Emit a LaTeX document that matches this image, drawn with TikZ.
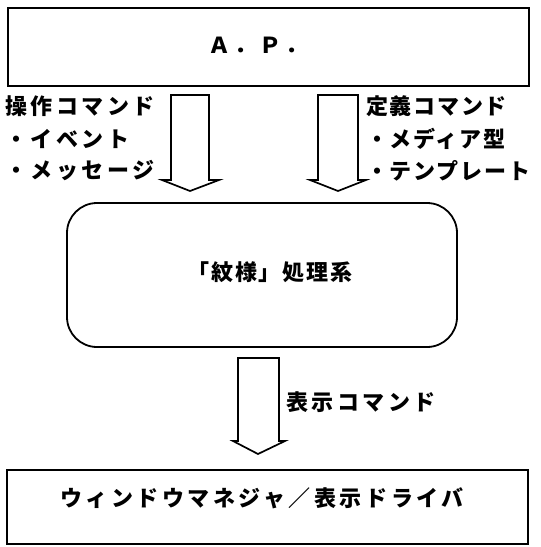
\documentclass[tikz,border=0pt]{standalone}
\usepackage{fontspec}
\newfontfamily\jpw{Noto Sans CJK JP}[LetterSpace=16]
\newfontfamily\jpn{Noto Sans CJK JP}[LetterSpace=8]
\begin{document}
\begin{tikzpicture}[x=1pt,y=-1pt,
  box/.style={draw, line width=1.8pt, inner sep=0pt},
  txt/.style={font=\jpw\bfseries\fontsize{22}{22}\selectfont, inner sep=0pt, align=left},
  txtn/.style={font=\jpn\bfseries\fontsize{22}{22}\selectfont, inner sep=0pt, align=left},
  barrow/.style={draw, line width=1.7pt, line join=miter}]
\useasboundingbox (0,0) rectangle (541,547);
% boxes
\node[box, minimum width=521pt, minimum height=78pt] (ap) at (268.5,47) {};
\node[txt] (aplbl) at (258,45) {Ａ．Ｐ．};
\node[box, rounded corners=30pt, minimum width=390pt, minimum height=144pt] (proc) at (262,275) {};
\node[txtn] (proclbl) at (270,272) {「紋様」処理系};
\node[box, minimum width=521pt, minimum height=74pt] (wm) at (267.5,507) {};
\node[txt] (wmlbl) at (262,498) {ウィンドウマネジャ／表示ドライバ};
% left block arrow
\coordinate (la1) at (171,95);
\coordinate (la2) at (209,95);
\draw[barrow] (la1) -- (171,180) -- (162,180) -- (190,191) -- (219,180) -- (209,180) -- (la2) -- cycle;
% right block arrow
\coordinate (ra1) at (318,95);
\coordinate (ra2) at (358,95);
\draw[barrow] (ra1) -- (318,180) -- (310,180) -- (338,191) -- (366,180) -- (358,180) -- (ra2) -- cycle;
% bottom block arrow
\coordinate (ba1) at (238,358);
\coordinate (ba2) at (279,358);
\draw[barrow] (ba1) -- (238,441) -- (233,441) -- (258,454) -- (285,441) -- (279,441) -- (ba2) -- cycle;
% labels
\node[txt, anchor=west] (l1) at (5,106) {操作コマンド};
\node[txt, anchor=west] (l2) at (5,139) {・イベント};
\node[txt, anchor=west] (l3) at (5,171) {・メッセージ};
\node[txtn, anchor=west] (r1) at (366,106) {定義コマンド};
\node[txtn, anchor=west] (r2) at (366,139) {・メディア型};
\node[txtn, anchor=west] (r3) at (366,171) {・テンプレート};
\node[txt, anchor=west] (b1) at (286,402) {表示コマンド};
\end{tikzpicture}
\end{document}
